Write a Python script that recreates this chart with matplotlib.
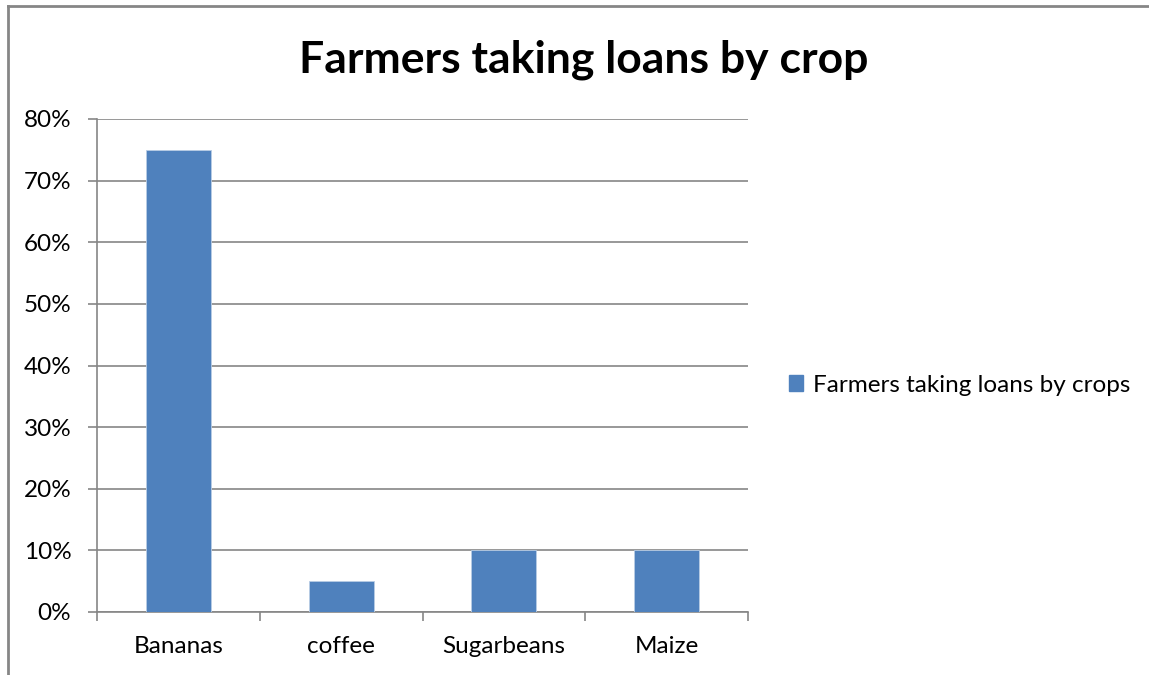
import matplotlib.pyplot as plt
from matplotlib.lines import Line2D
from matplotlib.patches import Patch

crops = ['Bananas', 'coffee', 'Sugarbeans', 'Maize']
share = [75, 5, 10, 10]
yticks = [0, 10, 20, 30, 40, 50, 60, 70, 80]
series_name = 'Farmers taking loans by crops'

plt.rcParams['font.family'] = ['Lato', 'DejaVu Sans']

fig = plt.figure(figsize=(11.49, 6.75), dpi=100)
ax = fig.add_axes([97 / 1149, 1 - 612 / 675, (748 - 97) / 1149, (612 - 119) / 675])

gray = '#868686'
x = range(len(crops))
ax.bar(x, share, width=0.4, color='#4F81BD', edgecolor='#B9CDE5', linewidth=0.6, zorder=3)

ax.set_xlim(-0.5, len(crops) - 0.5)
ax.set_ylim(0, 80)
ax.set_yticks(yticks)
ax.set_yticklabels([f'{v}%' for v in yticks])
ax.yaxis.grid(True, color=gray, linewidth=1.2, zorder=0)

# category labels without ticks, tick marks at the boundaries
ax.set_xticks(list(x))
ax.set_xticklabels(crops)
ax.set_xticks([i - 0.5 for i in range(len(crops) + 1)], minor=True)
ax.tick_params(axis='x', which='major', length=0, pad=17, labelsize=17.5)
ax.tick_params(axis='x', which='minor', length=6.5, width=1.2, color=gray, direction='out')
ax.tick_params(axis='y', length=6.5, width=1.2, color=gray, direction='out', pad=12, labelsize=17.5)

for s in ['top', 'right']:
    ax.spines[s].set_visible(False)
for s in ['left', 'bottom']:
    ax.spines[s].set_color(gray)
    ax.spines[s].set_linewidth(1.2)

fig.text(584 / 1149, 1 - 60 / 675, 'Farmers taking loans by crop', ha='center', va='center',
         fontsize=32, fontweight='bold')

fig.legend(handles=[Patch(facecolor='#4F81BD', edgecolor='#4F81BD', label=series_name)],
           loc='center left', bbox_to_anchor=(767 / 1149, 1 - 385 / 675), frameon=False,
           fontsize=17.5, handlelength=0.6, handleheight=0.6, handletextpad=0.4)

# chart border (only top and left edge visible in the crop)
fig.add_artist(Line2D([8 / 1149, 8 / 1149], [0, 1 - 6 / 675], color=gray, linewidth=2))
fig.add_artist(Line2D([8 / 1149, 1], [1 - 6 / 675, 1 - 6 / 675], color=gray, linewidth=2))

fig.savefig('out.png', dpi=100)
